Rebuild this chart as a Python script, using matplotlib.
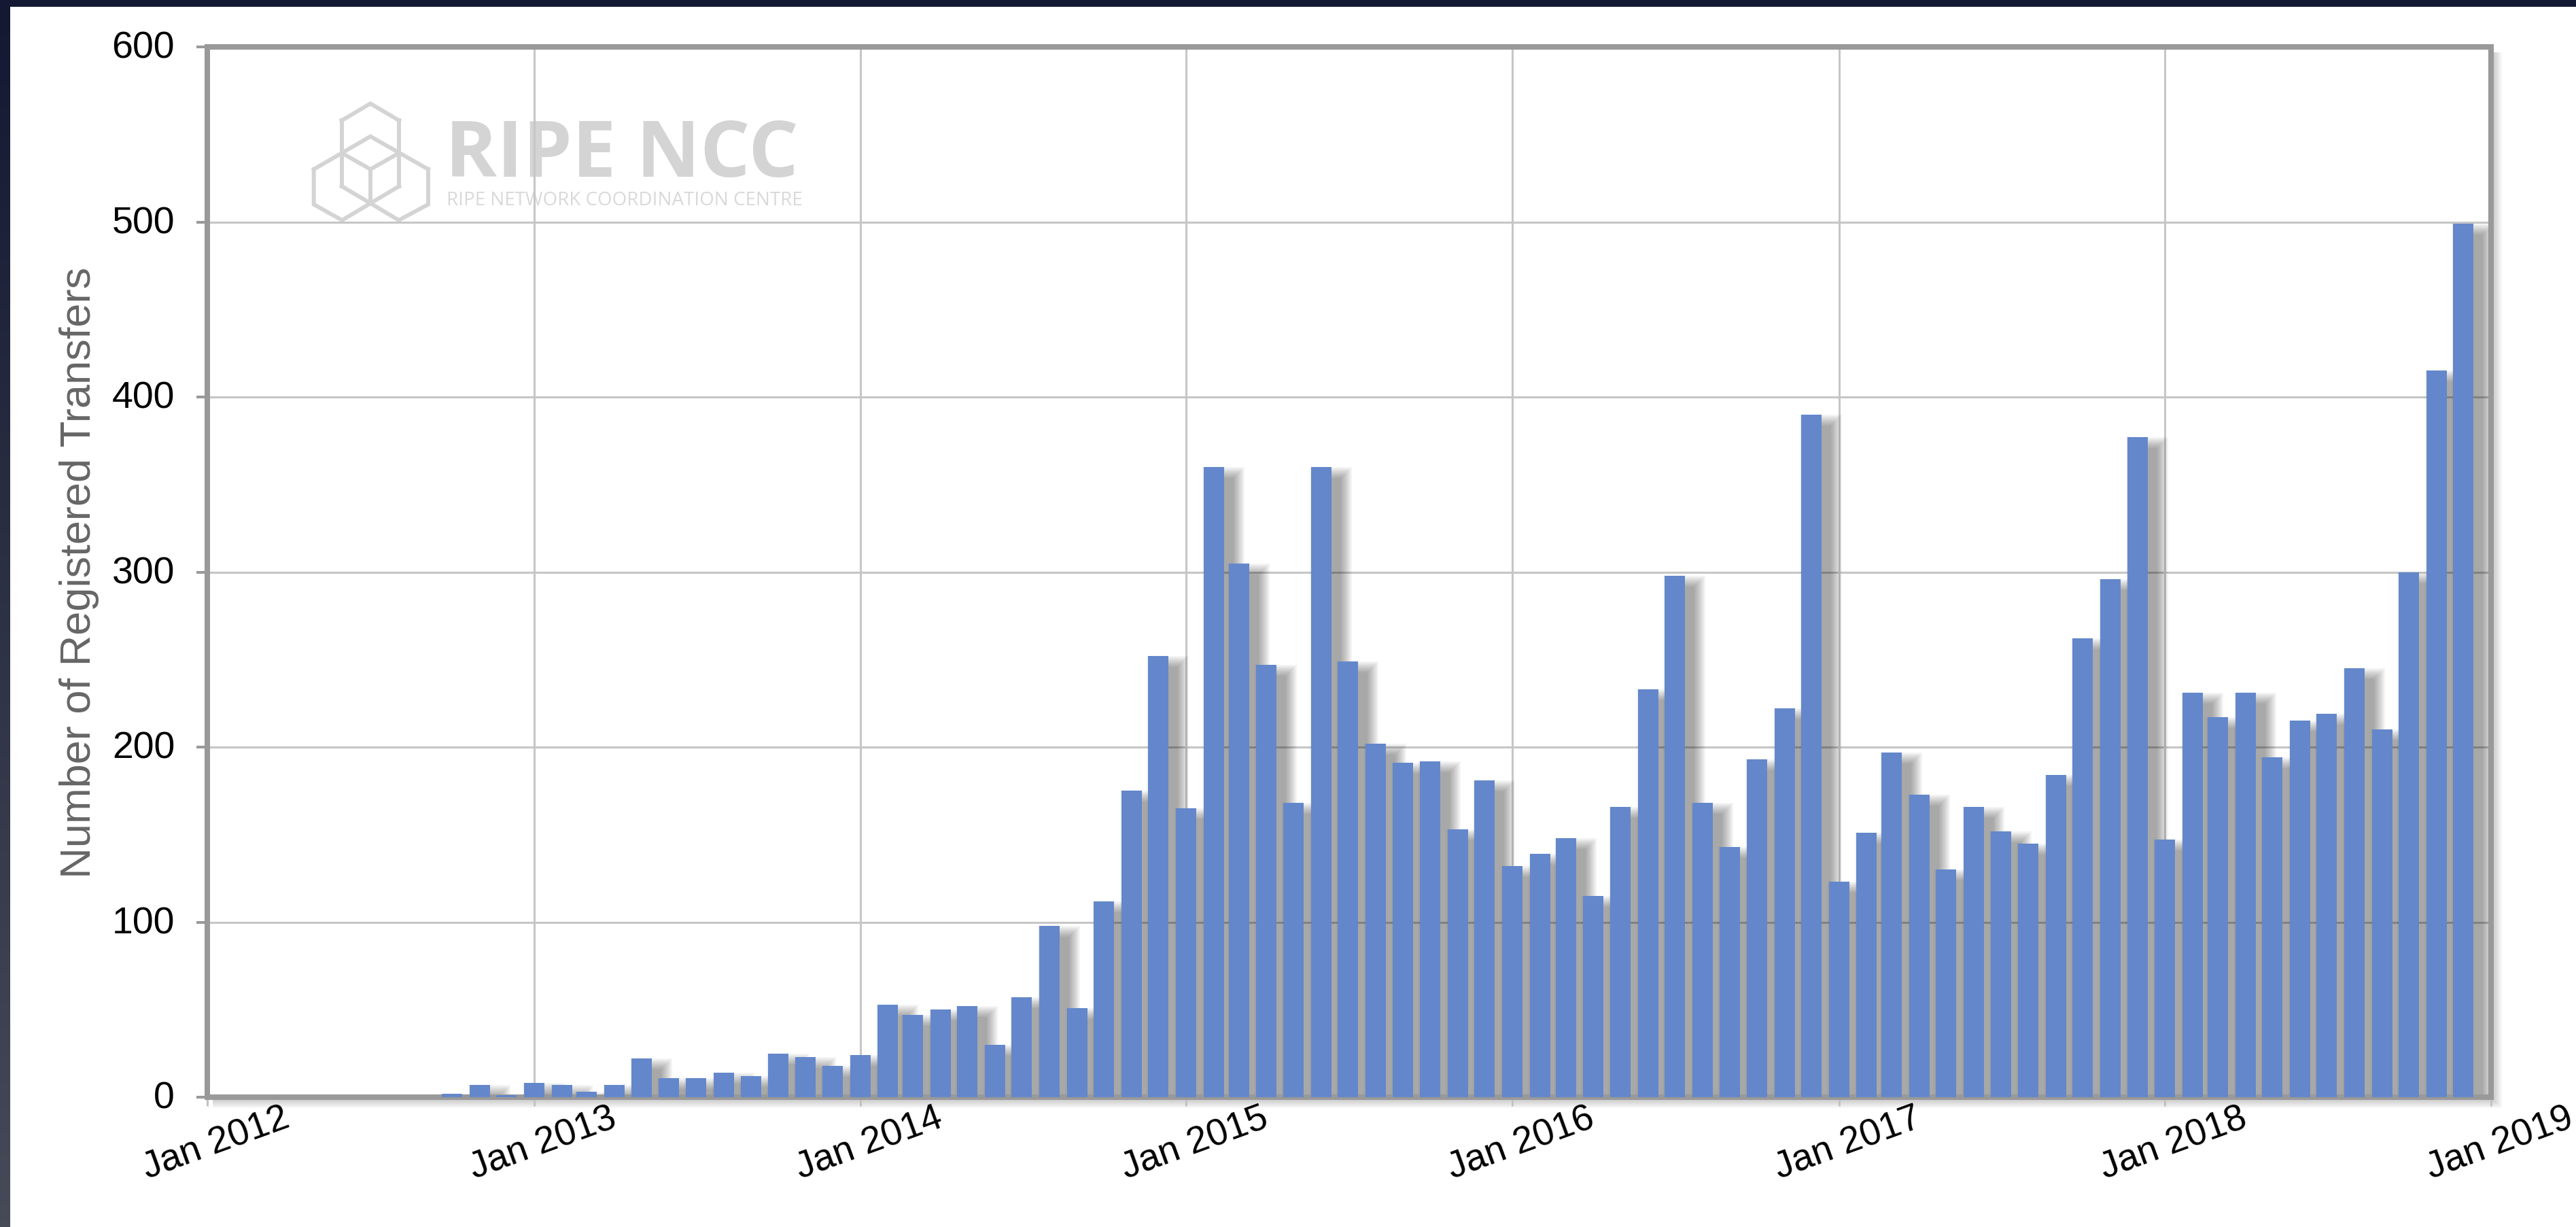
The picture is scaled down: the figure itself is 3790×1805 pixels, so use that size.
import datetime as dt
import numpy as np
import matplotlib
matplotlib.use('Agg')
import matplotlib.pyplot as plt
import matplotlib.dates as mdates
from matplotlib.patches import Rectangle
from matplotlib.colors import LinearSegmentedColormap
from matplotlib.transforms import Affine2D, ScaledTranslation

# registered transfers per month
years = [2012, 2013, 2014, 2015, 2016, 2017, 2018]
transfers_2012 = [0, 0, 0, 0, 0, 0, 0, 0, 0, 2, 7, 1]
transfers_2013 = [8, 7, 3, 7, 22, 11, 11, 14, 12, 25, 23, 18]
transfers_2014 = [24, 53, 47, 50, 52, 30, 57, 98, 51, 112, 175, 252]
transfers_2015 = [165, 360, 305, 247, 168, 360, 249, 202, 191, 192, 153, 181]
transfers_2016 = [132, 139, 148, 115, 166, 233, 298, 168, 143, 193, 222, 390]
transfers_2017 = [123, 151, 197, 173, 130, 166, 152, 145, 184, 262, 296, 377]
transfers_2018 = [147, 231, 217, 231, 194, 215, 219, 245, 210, 300, 415, 499]

tick_years = [2012, 2013, 2014, 2015, 2016, 2017, 2018, 2019]
tick_labels = ['Jan 2012', 'Jan 2013', 'Jan 2014', 'Jan 2015',
               'Jan 2016', 'Jan 2017', 'Jan 2018', 'Jan 2019']
y_ticks = [0, 100, 200, 300, 400, 500, 600]

values = np.array(transfers_2012 + transfers_2013 + transfers_2014 + transfers_2015
                  + transfers_2016 + transfers_2017 + transfers_2018, dtype=float)
months = [dt.date(y, m, 1) for y in years for m in range(1, 13)]
xn = mdates.date2num(months)

BAR = '#6387ca'
FRAME = '#999999'
GRID = '#c6c6c6'
FONT = 'Liberation Sans'

W, H = 3790, 1806
fig = plt.figure(figsize=(W / 100, H / 100), dpi=100)
fig.patch.set_facecolor('white')
px = Affine2D().scale(1.0 / W, -1.0 / H).translate(0, 1) + fig.transFigure

# plot area in pixels
L, R, T, B = 305, 3665, 70, 1615

# background: dark page edges + frame shadow
bg = fig.add_axes([0, 0, 1, 1])
bg.set_zorder(0)
bg.axis('off')
bg.add_patch(Rectangle((0, 0), W, 11, color='#131933', lw=0))
edge = LinearSegmentedColormap.from_list('edge', ['#131933', '#474a57'])
bg.imshow(np.linspace(0, 1, 256).reshape(-1, 1), extent=[0, 15, H, 11],
          aspect='auto', cmap=edge)
for k in range(1, 9):
    bg.add_patch(Rectangle((L + 8, T + 8), (R - L - 8) + 2 * k, (B - T - 8) + 2 * k,
                           color='black', alpha=0.03, lw=0))
bg.set_xlim(0, W)
bg.set_ylim(H, 0)

ax = fig.add_axes([L / W, (H - B) / H, (R - L) / W, (B - T) / H])
ax.set_zorder(1)
ax.set_facecolor('white')

x_lo = mdates.date2num(dt.date(2012, 1, 1))
x_hi = mdates.date2num(dt.date(2019, 1, 1))
dpx = (x_hi - x_lo) / (R - L)     # days per pixel
upx = 600.0 / (B - T)             # transfers per pixel
bw = 30 * dpx

# watermark logo
logo = '#d4d4d4'
segs = [
    [(502.7, 178.3), (545, 153.3), (587.3, 178.3)],
    [(502.7, 178.3), (502.7, 275)],
    [(587.3, 178.3), (587.3, 275)],
    [(502.7, 275), (545, 300), (587.3, 275)],
    [(545, 300), (503.3, 325)],
    [(545, 300), (586.7, 325)],
    [(461.7, 250), (545, 201.7), (630, 250)],
    [(461.7, 250), (461.7, 301.7), (503.3, 325)],
    [(630, 250), (630, 301.7), (586.7, 325)],
    [(502.7, 226), (545, 250), (587.3, 226)],
    [(545, 250), (545, 300)],
]
for s in segs:
    xs, ys = zip(*s)
    ax.plot(xs, ys, color=logo, lw=4.3, transform=px, clip_on=False,
            zorder=0.2, solid_joinstyle='miter', solid_capstyle='projecting')
ax.text(655, 260, 'RIPE NCC', transform=px, fontsize=83, fontweight='bold',
        family='Open Sans', color=logo, ha='left', va='baseline', zorder=0.2)
ax.text(657, 302, 'RIPE NETWORK COORDINATION CENTRE', transform=px, fontsize=20,
        family='Open Sans', color='#d9d9d9', ha='left', va='baseline', zorder=0.2)

# soft drop shadow behind every bar
has = values > 0
for e in range(0, 18, 2):
    ax.bar(xn[has] + 14 * dpx, values[has] + 2 * e * upx, width=bw + 2 * e * dpx,
           bottom=-(16 + e) * upx, color='black', alpha=0.045, lw=0, zorder=2)

ax.bar(xn, values, width=bw, color=BAR, lw=0, zorder=3)

ax.set_xlim(x_lo, x_hi)
ax.set_ylim(0, 600)

xt = [mdates.date2num(dt.date(y, 1, 1)) for y in tick_years]
ax.set_xticks(xt)
ax.set_xticklabels(tick_labels, rotation=20, ha='center', va='center',
                   family=FONT, fontsize=39.5)
ax.set_yticks(y_ticks)
ax.set_yticklabels([str(v) for v in y_ticks], family=FONT, fontsize=40)

ax.tick_params(axis='x', length=13 * 0.72, width=2.2, color='#c2c2c2', pad=55 * 0.72)
ax.tick_params(axis='y', length=16 * 0.72, width=2.9, color=FRAME, pad=32 * 0.72)
for lab in ax.get_xticklabels():
    lab.set_transform(lab.get_transform() + ScaledTranslation(0.13, 0, fig.dpi_scale_trans))
for lab in ax.get_yticklabels():
    lab.set_transform(lab.get_transform() + ScaledTranslation(0, 0.04, fig.dpi_scale_trans))

ax.set_axisbelow(True)
ax.grid(True, color=GRID, lw=2.2)

for sp in ax.spines.values():
    sp.set_color(FRAME)
    sp.set_linewidth(5.8)

ax.set_ylabel('Number of Registered Transfers', family=FONT, fontsize=45.5, color='#666666')
ax.yaxis.label.set_va('center')
ax.yaxis.set_label_coords((117 - L) / (R - L), 0.5)

fig.savefig('out.png', dpi=100, facecolor='white')
